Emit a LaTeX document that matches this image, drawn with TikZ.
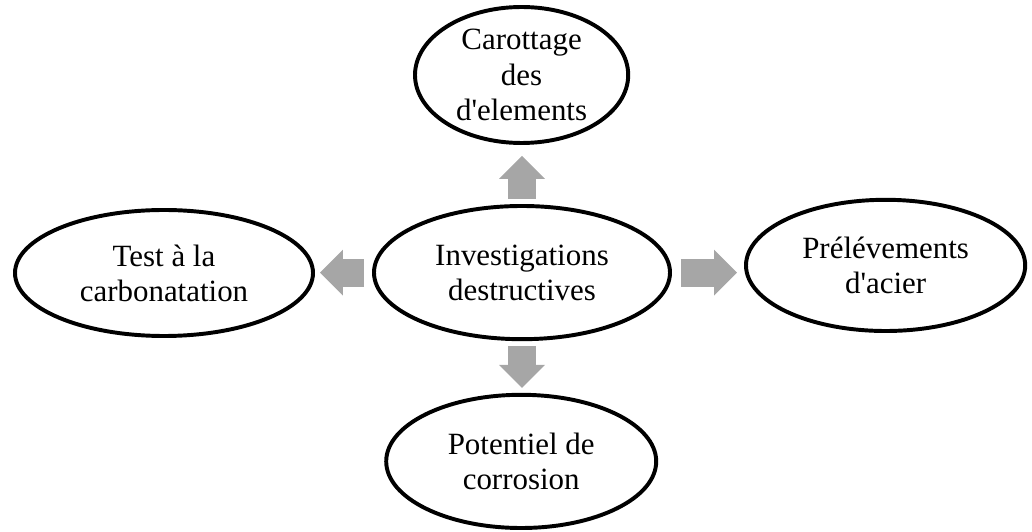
\documentclass[tikz,border=0pt]{standalone}
\usepackage{fontspec}
\setmainfont{Liberation Serif}[Ligatures=TeXOff]
\usepackage{tikz}
\usetikzlibrary{shapes.geometric}
\usetikzlibrary{arrows.meta}
\usetikzlibrary{calc}
\usepackage{color}
\definecolor{arrowgray}{RGB}{166, 166, 166}

\begin{document}
\begin{tikzpicture}[
        bubble/.style={draw=black, line width=2.8pt, ellipse, inner sep=0pt, align=center,
                       font=\fontsize{22}{25}\selectfont},
        blockarrow/.style={color=arrowgray, line width=0.7cm,
                           -{Triangle[length=0.575cm, width=1.15cm, line width=0pt]}}]
            \useasboundingbox (0.00, 0.00) rectangle (25.80, 13.275);
            % the five bubbles
            \node[bubble, minimum width=7.40cm, minimum height=3.33cm] (invest) at (13.05, 6.46) {Investigations\\destructives};
            \node[bubble, minimum width=5.33cm, minimum height=3.40cm, inner ysep=-4pt] (carot) at (13.04, 11.40) {Carottage\\des\\d'elements};
            \node[bubble, minimum width=7.45cm, minimum height=3.15cm] (carbo)  at ( 4.10, 6.45) {Test à la\\carbonatation};
            \node[bubble, minimum width=6.98cm, minimum height=3.28cm] (prelev) at (22.14, 6.64) {Prélévements\\d'acier};
            \node[bubble, minimum width=6.75cm, minimum height=3.33cm] (poten)  at (13.03, 1.74) {Potentiel de\\corrosion};
            % block arrows
            \draw[blockarrow, shorten <=0.125cm, shorten >=0.275cm] (invest.north) -- (invest.north |- carot.south);
            \draw[blockarrow, shorten <=0.125cm, shorten >=0.125cm] (invest.south) -- (invest.south |- poten.north);
            \draw[blockarrow, shorten <=0.200cm, shorten >=0.125cm] (invest.west)  -- (invest.west -| carbo.east);
            \draw[blockarrow, shorten <=0.225cm, shorten >=0.175cm] (invest.east)  -- (invest.east -| prelev.west);
\end{tikzpicture}
\end{document}
